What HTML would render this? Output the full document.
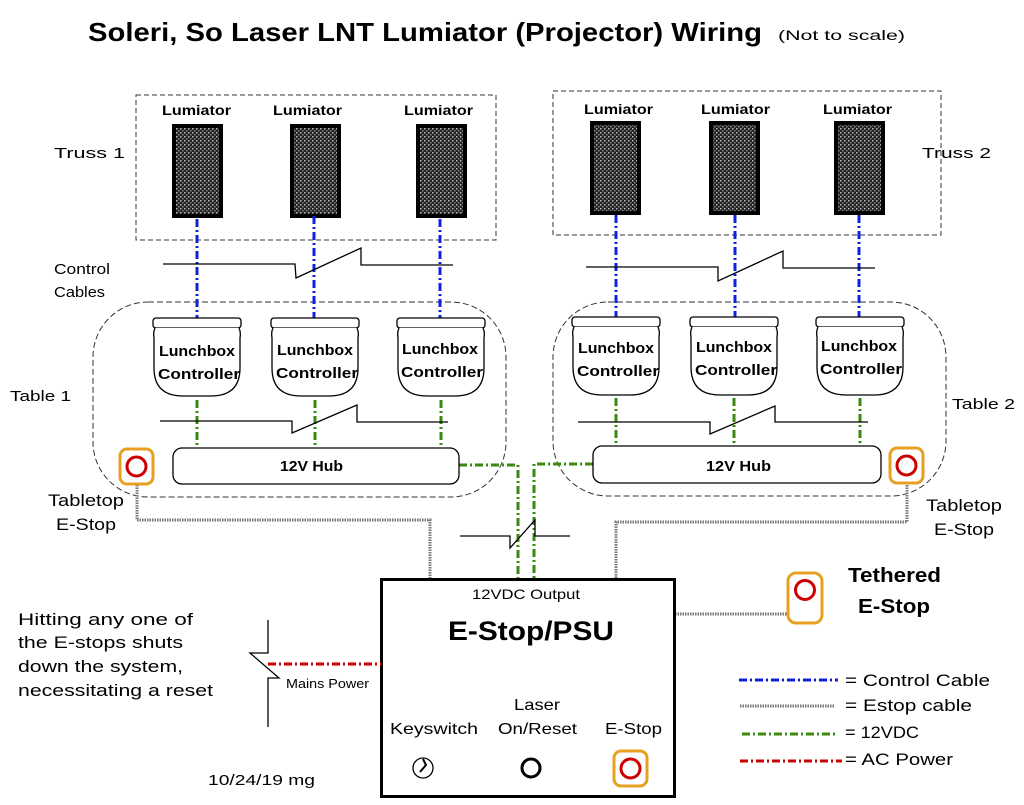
<!DOCTYPE html>
<html><head><meta charset="utf-8"><style>
html,body{margin:0;padding:0;background:#fff;}
svg{display:block;font-family:"Liberation Sans",sans-serif;}
</style></head><body>
<svg width="1024" height="805" viewBox="0 0 1024 805" xmlns="http://www.w3.org/2000/svg">
<defs>
<pattern id="tex" width="4" height="4" patternUnits="userSpaceOnUse">
<rect width="4" height="4" fill="#222"/><rect x="0" y="0" width="1.5" height="1.5" fill="#bbb"/><rect x="2" y="2" width="1.5" height="1.5" fill="#888"/>
</pattern>
<g id="lunch">
<rect x="0" y="0" width="88" height="10" rx="3" fill="#fff" stroke="#000" stroke-width="1.3"/>
<path d="M2,10 Q0,14 1,20 L1,50 Q1,78 30,78 L58,78 Q87,78 87,50 L87,20 Q88,14 86,10" fill="#fff" stroke="#000" stroke-width="1.3"/>
</g>
<g id="estop">
<rect x="0" y="0" width="33" height="35" rx="7" fill="#fff" stroke="#e8a020" stroke-width="3"/>
<circle cx="16.5" cy="17.5" r="9.5" fill="none" stroke="#c00" stroke-width="3"/>
</g>
</defs>
<g fill="#000" font-weight="bold">
<text x="88" y="41" font-size="26" textLength="674" lengthAdjust="spacingAndGlyphs">Soleri, So Laser LNT Lumiator (Projector) Wiring</text>
<text x="778" y="40" font-size="14" font-weight="normal" textLength="127" lengthAdjust="spacingAndGlyphs">(Not to scale)</text>
</g>
<rect x="136" y="95" width="360" height="145" fill="none" stroke="#333" stroke-dasharray="5,3"/>
<rect x="553" y="91" width="388" height="144" fill="none" stroke="#333" stroke-dasharray="5,3"/>
<g font-size="14" font-weight="bold">
<text x="162" y="115" textLength="69" lengthAdjust="spacingAndGlyphs">Lumiator</text>
<text x="273" y="115" textLength="69" lengthAdjust="spacingAndGlyphs">Lumiator</text>
<text x="404" y="115" textLength="69" lengthAdjust="spacingAndGlyphs">Lumiator</text>
<text x="584" y="114" textLength="69" lengthAdjust="spacingAndGlyphs">Lumiator</text>
<text x="701" y="114" textLength="69" lengthAdjust="spacingAndGlyphs">Lumiator</text>
<text x="823" y="114" textLength="69" lengthAdjust="spacingAndGlyphs">Lumiator</text>
</g>
<g fill="url(#tex)" stroke="#000" stroke-width="4">
<rect x="174" y="126" width="47" height="90"/><rect x="292" y="126" width="47" height="90"/><rect x="418" y="126" width="47" height="90"/>
<rect x="592" y="123" width="47" height="90"/><rect x="711" y="123" width="47" height="90"/><rect x="836" y="123" width="47" height="90"/>
</g>
<g font-size="15">
<text x="54" y="158" textLength="71" lengthAdjust="spacingAndGlyphs">Truss  1</text>
<text x="54" y="274" textLength="56" lengthAdjust="spacingAndGlyphs">Control</text>
<text x="54" y="297" textLength="51" lengthAdjust="spacingAndGlyphs">Cables</text>
<text x="10" y="401" textLength="61" lengthAdjust="spacingAndGlyphs">Table  1</text>
<text x="922" y="158" textLength="69" lengthAdjust="spacingAndGlyphs">Truss  2</text>
<text x="952" y="409" textLength="63" lengthAdjust="spacingAndGlyphs">Table  2</text>
</g>
<g font-size="17">
<text x="48" y="506" textLength="76" lengthAdjust="spacingAndGlyphs">Tabletop</text>
<text x="56" y="530" textLength="60" lengthAdjust="spacingAndGlyphs">E-Stop</text>
<text x="926" y="511" textLength="76" lengthAdjust="spacingAndGlyphs">Tabletop</text>
<text x="934" y="535" textLength="60" lengthAdjust="spacingAndGlyphs">E-Stop</text>
</g>
<rect x="93" y="302" width="413" height="195" rx="55" fill="none" stroke="#333" stroke-dasharray="6,3"/>
<rect x="553" y="302" width="393" height="194" rx="55" fill="none" stroke="#333" stroke-dasharray="6,3"/>
<g stroke="#1020e0" stroke-width="3" stroke-dasharray="8,3,2,3">
<line x1="197" y1="219" x2="197" y2="319"/><line x1="314" y1="216" x2="314" y2="319"/><line x1="440" y1="219" x2="440" y2="319"/>
<line x1="616" y1="215" x2="616" y2="317"/><line x1="735" y1="215" x2="735" y2="317"/><line x1="859" y1="215" x2="859" y2="317"/>
</g>
<g stroke="#3a8a10" stroke-width="3" stroke-dasharray="8,3,2,3" fill="none">
<line x1="197" y1="400" x2="197" y2="448"/><line x1="315" y1="400" x2="315" y2="448"/><line x1="441" y1="400" x2="441" y2="448"/>
<line x1="616" y1="398" x2="616" y2="447"/><line x1="734" y1="398" x2="734" y2="447"/><line x1="860" y1="398" x2="860" y2="447"/>
<path d="M459,465 L518,465 L518,578"/>
<path d="M593,464 L534,464 L534,578"/>
</g>
<g stroke="#000" stroke-width="1.3" fill="none">
<path d="M163,264 L295,264 L296,278 L361,248 L361,265 L453,265"/>
<path d="M160,421 L292,421 L292,433 L357,405 L357,422 L448,422"/>
<path d="M586,267 L718,267 L718,281 L783,251 L783,268 L875,268"/>
<path d="M578,422 L710,422 L710,434 L775,406 L775,422 L868,422"/>
<path d="M460,536 L510,536 L510,548 L535,520 L535,536 L570,536"/>
<path d="M268,620 L268,653 L250,653 L279,678 L268,678 L268,727"/>
</g>
<use href="#lunch" x="153" y="318"/><use href="#lunch" x="271" y="318"/><use href="#lunch" x="397" y="318"/>
<use href="#lunch" x="572" y="317"/><use href="#lunch" x="690" y="317"/><use href="#lunch" x="816" y="317"/>
<g font-size="15" font-weight="bold">
<text x="159" y="356" textLength="76" lengthAdjust="spacingAndGlyphs">Lunchbox</text><text x="158" y="379" textLength="82" lengthAdjust="spacingAndGlyphs">Controller</text>
<text x="277" y="355" textLength="76" lengthAdjust="spacingAndGlyphs">Lunchbox</text><text x="276" y="378" textLength="82" lengthAdjust="spacingAndGlyphs">Controller</text>
<text x="402" y="354" textLength="76" lengthAdjust="spacingAndGlyphs">Lunchbox</text><text x="401" y="377" textLength="82" lengthAdjust="spacingAndGlyphs">Controller</text>
<text x="578" y="353" textLength="76" lengthAdjust="spacingAndGlyphs">Lunchbox</text><text x="577" y="376" textLength="82" lengthAdjust="spacingAndGlyphs">Controller</text>
<text x="696" y="352" textLength="76" lengthAdjust="spacingAndGlyphs">Lunchbox</text><text x="695" y="375" textLength="82" lengthAdjust="spacingAndGlyphs">Controller</text>
<text x="821" y="351" textLength="76" lengthAdjust="spacingAndGlyphs">Lunchbox</text><text x="820" y="374" textLength="82" lengthAdjust="spacingAndGlyphs">Controller</text>
</g>
<rect x="173" y="448" width="286" height="36" rx="9" fill="#fff" stroke="#000" stroke-width="1.3"/>
<rect x="593" y="446" width="288" height="37" rx="9" fill="#fff" stroke="#000" stroke-width="1.3"/>
<text x="280" y="471" font-size="15" font-weight="bold" textLength="63" lengthAdjust="spacingAndGlyphs">12V Hub</text>
<text x="706" y="471" font-size="15" font-weight="bold" textLength="65" lengthAdjust="spacingAndGlyphs">12V Hub</text>
<g stroke="#777" stroke-width="3" stroke-dasharray="1.5,1" fill="none">
<path d="M137,485 L137,520 L430,520 L430,578"/>
<path d="M907,485 L907,522 L616,522 L616,578"/>
<path d="M675,614 L787,614"/>
<path d="M740,706 L835,706"/>
</g>
<use href="#estop" x="120" y="449"/><use href="#estop" x="890" y="448"/>
<rect x="788" y="573" width="34" height="50" rx="8" fill="#fff" stroke="#e8a020" stroke-width="3"/>
<circle cx="805" cy="590" r="9.5" fill="none" stroke="#c00" stroke-width="3"/>
<text x="848" y="582" font-size="20" font-weight="bold" textLength="93" lengthAdjust="spacingAndGlyphs">Tethered</text>
<text x="858" y="613" font-size="20" font-weight="bold" textLength="72" lengthAdjust="spacingAndGlyphs">E-Stop</text>
<rect x="381.5" y="579.5" width="293" height="217" fill="#fff" stroke="#000" stroke-width="3"/>
<text x="472" y="599" font-size="14" textLength="108" lengthAdjust="spacingAndGlyphs">12VDC Output</text>
<text x="448" y="640" font-size="27" font-weight="bold" textLength="166" lengthAdjust="spacingAndGlyphs">E-Stop/PSU</text>
<g font-size="16">
<text x="390" y="734" textLength="88" lengthAdjust="spacingAndGlyphs">Keyswitch</text>
<text x="514" y="710" textLength="46" lengthAdjust="spacingAndGlyphs">Laser</text>
<text x="498" y="734" textLength="79" lengthAdjust="spacingAndGlyphs">On/Reset</text>
<text x="605" y="734" textLength="57" lengthAdjust="spacingAndGlyphs">E-Stop</text>
</g>
<circle cx="423" cy="768" r="10" fill="none" stroke="#000" stroke-width="1.3"/>
<path d="M423,759 L426,765 L420,772" stroke="#000" stroke-width="2" fill="none"/>
<circle cx="531" cy="768" r="9" fill="none" stroke="#000" stroke-width="3"/>
<use href="#estop" x="614" y="751"/>
<line x1="268" y1="664" x2="381" y2="664" stroke="#c00" stroke-width="3" stroke-dasharray="8,3,2,3"/>
<text x="286" y="688" font-size="13" textLength="83" lengthAdjust="spacingAndGlyphs">Mains Power</text>
<g font-size="17">
<text x="18" y="625" textLength="175" lengthAdjust="spacingAndGlyphs">Hitting any one of</text>
<text x="18" y="648" textLength="165" lengthAdjust="spacingAndGlyphs">the E-stops shuts</text>
<text x="18" y="672" textLength="165" lengthAdjust="spacingAndGlyphs">down the system,</text>
<text x="18" y="696" textLength="195" lengthAdjust="spacingAndGlyphs">necessitating a reset</text>
</g>
<text x="208" y="785" font-size="15" textLength="107" lengthAdjust="spacingAndGlyphs">10/24/19 mg</text>
<g stroke-width="3" stroke-dasharray="8,3,2,3">
<line x1="739" y1="680" x2="838" y2="680" stroke="#1020e0"/>
<line x1="742" y1="734" x2="835" y2="734" stroke="#3a8a10"/>
<line x1="740" y1="761" x2="842" y2="761" stroke="#c00"/>
</g>
<g font-size="17">
<text x="845" y="686" textLength="145" lengthAdjust="spacingAndGlyphs">=  Control Cable</text>
<text x="845" y="711" textLength="127" lengthAdjust="spacingAndGlyphs">=  Estop cable</text>
<text x="845" y="738" textLength="74" lengthAdjust="spacingAndGlyphs">=  12VDC</text>
<text x="845" y="765" textLength="108" lengthAdjust="spacingAndGlyphs">=  AC Power</text>
</g>
</svg>
</body></html>
